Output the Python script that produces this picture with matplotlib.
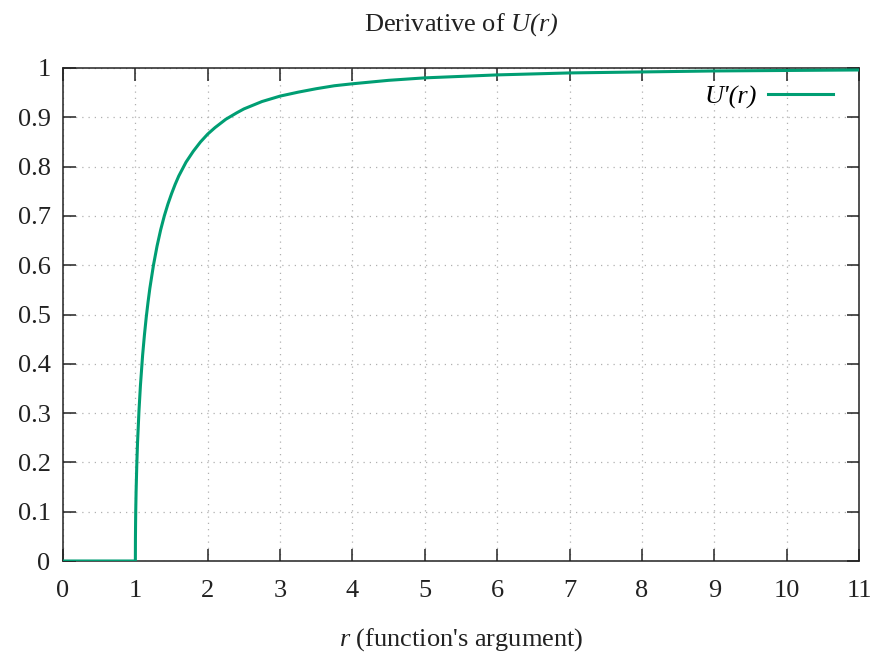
import matplotlib
matplotlib.use("Agg")
import matplotlib.pyplot as plt

# values
r_vals = [0, 1.0, 1.001, 1.003, 1.005, 1.01, 1.02, 1.03, 1.05, 1.07, 1.1,
          1.125, 1.15, 1.175, 1.2, 1.25, 1.3, 1.35, 1.4, 1.45, 1.5, 1.55,
          1.6, 1.7, 1.8, 1.9, 2.0, 2.1, 2.25, 2.4, 2.5, 2.6, 2.75, 3.0, 3.25,
          3.5, 3.75, 4.0, 4.5, 5.0, 5.5, 6.0, 7.0, 8.0, 9.0, 10.0, 11.0]
du_vals = [0, 0, 0.045, 0.077, 0.10, 0.14, 0.197, 0.240, 0.305, 0.356, 0.417,
           0.458, 0.494, 0.525, 0.553, 0.600, 0.639, 0.672, 0.700, 0.724,
           0.745, 0.764, 0.781, 0.809, 0.831, 0.850, 0.866, 0.879, 0.896,
           0.909, 0.917, 0.923, 0.932, 0.943, 0.951, 0.958, 0.964, 0.968,
           0.975, 0.980, 0.983, 0.986, 0.990, 0.992, 0.994, 0.995, 0.996]

x_ticks = list(range(0, 12))
y_ticks = [0, 0.1, 0.2, 0.3, 0.4, 0.5, 0.6, 0.7, 0.8, 0.9, 1]
y_labels = ["0", "0.1", "0.2", "0.3", "0.4", "0.5", "0.6", "0.7", "0.8", "0.9", "1"]

FS = 19
INK = "#222222"

plt.rcParams["font.family"] = "Liberation Serif"
plt.rcParams["mathtext.fontset"] = "custom"
plt.rcParams["mathtext.rm"] = "Liberation Serif:italic"
plt.rcParams["mathtext.it"] = "Liberation Serif:italic"

fig = plt.figure(figsize=(8.77, 6.58), dpi=100)
ax = fig.add_axes([63 / 877, 1 - 561 / 658, 796 / 877, 493 / 658])

ax.plot(r_vals, du_vals, color="#009e73", lw=2.2, label="U'(r)", zorder=3)

ax.set_xlim(0, 11)
ax.set_ylim(0, 1)
ax.set_xticks(x_ticks)
ax.set_yticks(y_ticks)
ax.set_yticklabels(y_labels)
ax.tick_params(direction="in", length=9, width=1.1, labelsize=FS,
               top=True, right=True, color=INK, labelcolor=INK)
ax.tick_params(axis="x", pad=14)
ax.tick_params(axis="y", pad=9)
for s in ax.spines.values():
    s.set_color(INK)
    s.set_linewidth(1.1)

ax.grid(True, color="#b0b0b0", linestyle=(0, (1, 4)), lw=0.9)

ax.set_title(r"Derivative of $U(r)$", fontsize=FS, pad=27, color=INK)
ax.set_xlabel(r"$r$ (function's argument)", fontsize=FS, labelpad=17,
              color=INK)

ax.legend(loc="center right", bbox_to_anchor=(0.967, 0.941),
          frameon=False, markerfirst=False, borderpad=0,
          borderaxespad=0, handlelength=2.46, handletextpad=0.42,
          prop={"family": "Liberation Serif", "style": "italic", "size": FS})

fig.savefig("out.png", dpi=100)
